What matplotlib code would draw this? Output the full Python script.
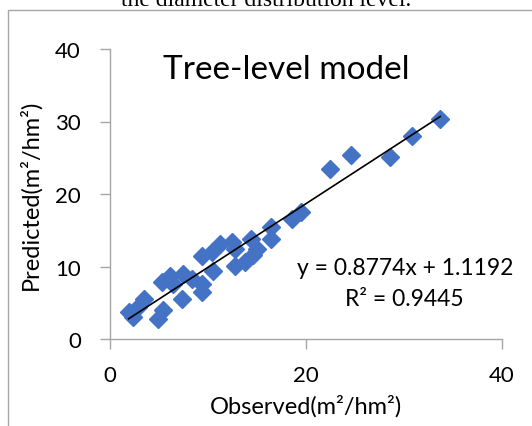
import matplotlib
matplotlib.use('Agg')
import matplotlib.pyplot as plt
import numpy as np
from matplotlib.patches import Rectangle

# observed vs predicted basal area, tree-level model
observed = [1.9, 2.3, 2.9, 3.5, 4.9, 5.4, 5.3, 6.1, 6.4, 7.3, 7.4, 8.4,
            9.4, 9.4, 9.4, 10.5, 10.4, 11.2, 12.4, 12.8, 13.8, 12.8, 14.4,
            14.6, 15.0, 16.4, 16.4, 18.6, 19.5, 22.4, 24.6, 28.6, 30.8, 33.7]
predicted = [3.7, 3.0, 4.4, 5.5, 2.8, 4.0, 7.9, 8.7, 7.6, 5.5, 9.0, 8.3,
             6.5, 7.6, 11.5, 9.4, 12.0, 13.1, 13.4, 10.1, 10.6, 12.4, 13.8,
             11.6, 12.4, 15.4, 13.8, 16.5, 17.5, 23.4, 25.4, 25.1, 28.0, 30.3]
slope, intercept = 0.8774, 1.1192
r2 = 0.9445

blue = '#4472C4'
grey = '#A6A6A6'
font = ['Lato', 'DejaVu Sans']

fig = plt.figure(figsize=(5.32, 4.27), dpi=100)
fig.patches.append(Rectangle((8 / 532, -0.1), 2, 1 - 11 / 427 + 0.1,
                             transform=fig.transFigure, fill=False,
                             edgecolor=grey, lw=1))
fig.text(0.5, 1 - 6 / 427, 'the diameter distribution level.',
         ha='center', va='baseline', fontsize=17, family='Liberation Serif')

ax = fig.add_axes([110 / 532, 1 - 340 / 427, 392 / 532, 290 / 427])
ax.plot(observed, predicted, 'D', color=blue, ms=9.5, mec=blue, zorder=3)

xs = np.array([min(observed), max(observed)])
ax.plot(xs, slope * xs + intercept, color='black', lw=1.2, zorder=4)

ax.set_xlim(0, 40)
ax.set_ylim(0, 40)
ax.set_xticks([0, 20, 40])
ax.set_yticks([0, 10, 20, 30, 40])
for side in ['top', 'right']:
    ax.spines[side].set_visible(False)
for side in ['left', 'bottom']:
    ax.spines[side].set_color(grey)
    ax.spines[side].set_linewidth(1)
ax.tick_params(direction='out', length=7, width=1, color=grey,
               labelsize=16)
for lab in ax.get_xticklabels() + ax.get_yticklabels():
    lab.set_family(font)
ax.tick_params(axis='x', pad=12)
ax.tick_params(axis='y', pad=14)

ax.set_xlabel('Observed(m²/hm²)', fontsize=17, family=font, labelpad=6)
ax.set_ylabel('Predicted(m²/hm²)', fontsize=17, family=font, labelpad=10)

ax.text(0.135, 0.93, 'Tree-level model', transform=ax.transAxes,
        fontsize=24, family=font, va='center', ha='left')
ax.text(1.03, 0.248, 'y = %.4fx + %.4f' % (slope, intercept),
        transform=ax.transAxes, fontsize=16.5, family=font, ha='right', va='center')
ax.text(0.75, 0.138, 'R² = %.4f' % r2,
        transform=ax.transAxes, fontsize=16.5, family=font, ha='center', va='center')

fig.savefig('out.png', dpi=100)
